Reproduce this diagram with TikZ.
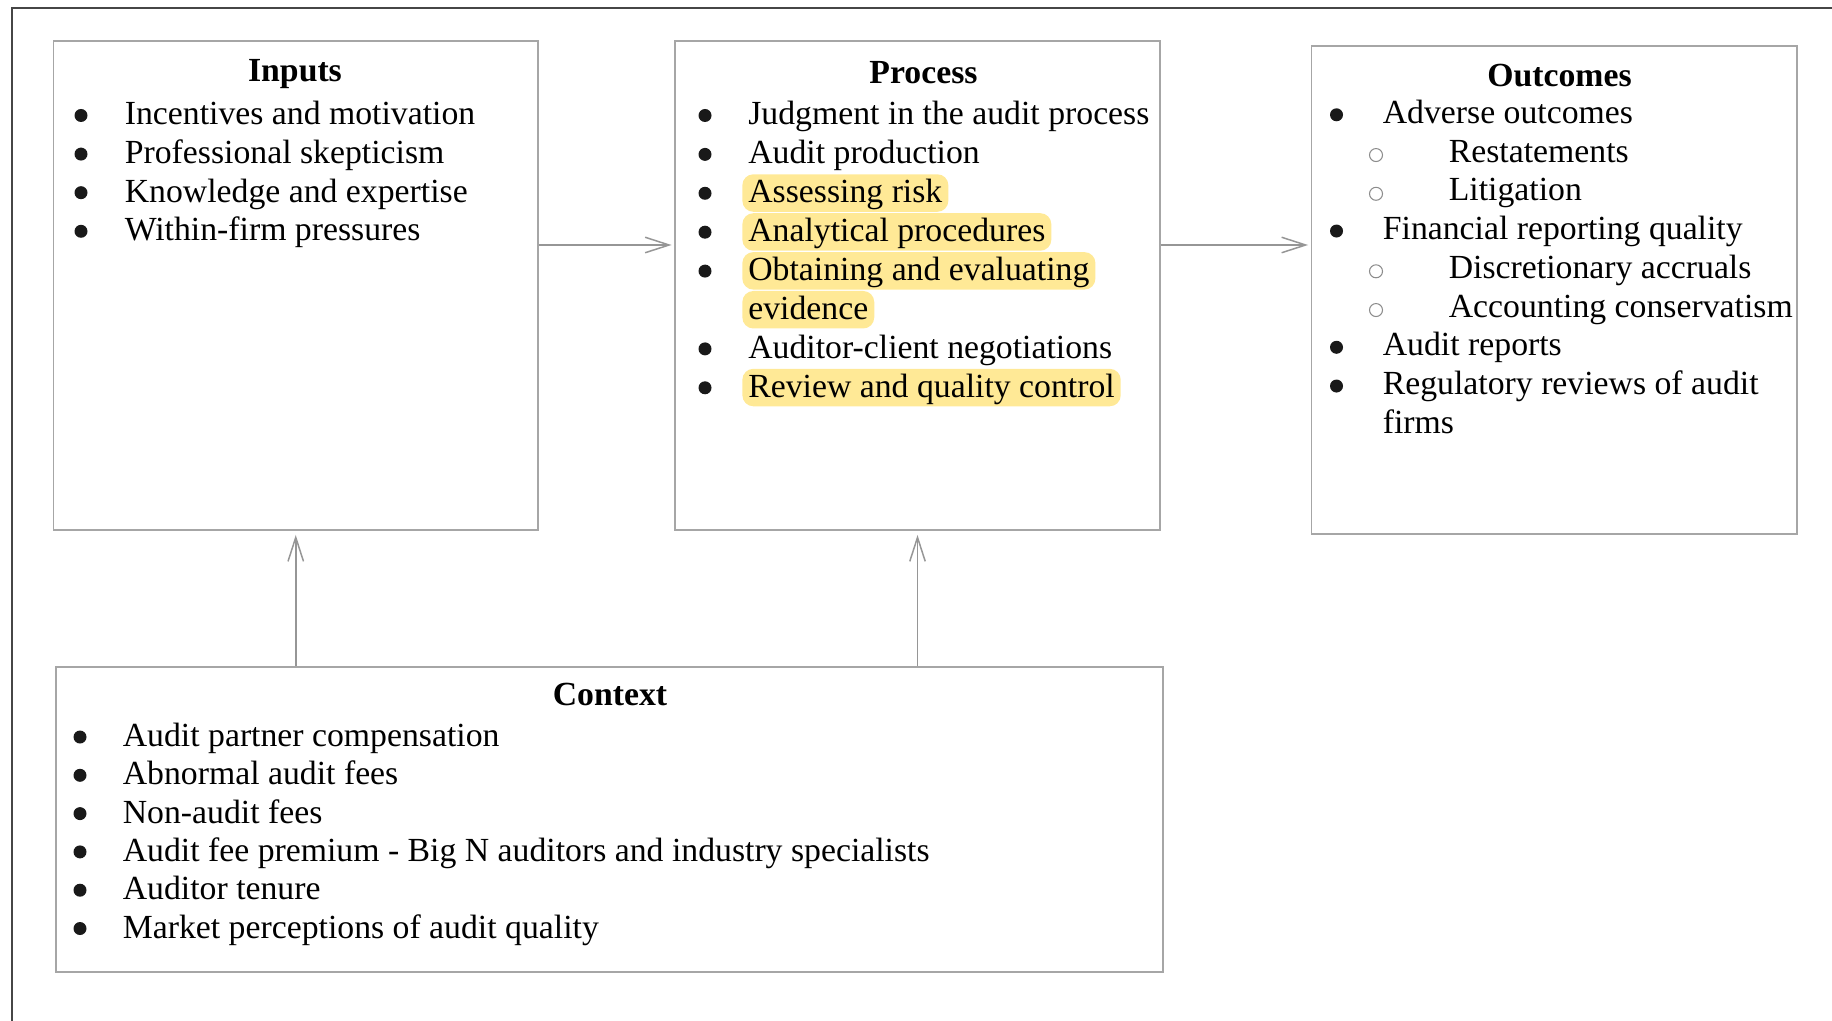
\documentclass[tikz,border=0pt]{standalone}
\usepackage{fontspec}
\setmainfont{Liberation Serif}
\usetikzlibrary{arrows.meta}
\definecolor{hlyellow}{RGB}{255,233,150}
\definecolor{boxgray}{RGB}{166,166,166}
\definecolor{arrgray}{RGB}{150,150,150}
\definecolor{framegray}{RGB}{70,70,70}
\tikzset{
  panel/.style={draw=boxgray, line width=1.1pt, inner sep=0pt},
  heading/.style={anchor=base, inner sep=0pt, font=\fontsize{19.2}{23}\selectfont\bfseries},
  listrow/.style={anchor=base west, inner xsep=0.12cm, inner ysep=0pt,
    text height=0.57cm, text depth=0.18cm, font=\fontsize{19.2}{23}\selectfont},
  plainrow/.style={},
  hlrow/.style={fill=hlyellow, rounded corners=0.22cm},
  dot/.style={circle, fill=black!90, inner sep=0pt, minimum size=0.26cm},
  subdot/.style={circle, draw=black!45, line width=0.6pt, inner sep=0pt, minimum size=0.26cm},
  flowarrow/.style={draw=arrgray, line width=0.85pt,
    -{Straight Barb[length=0.48cm, width=0.31cm, line width=0.85pt]}}
}
\begin{document}
\begin{tikzpicture}
  \useasboundingbox (0,0) rectangle (36.64,-20.42);
  % page frame
  \draw[framegray, line width=1.3pt] (0.24,-20.42) -- (0.24,-0.16) -- (36.64,-0.16);

  % the four panels
  \node[panel, minimum width=9.69cm, minimum height=9.78cm] (inputs) at (5.915,-5.71) {};
  \node[panel, minimum width=9.70cm, minimum height=9.78cm] (process) at (18.35,-5.71) {};
  \node[panel, minimum width=9.71cm, minimum height=9.76cm] (outcomes) at (31.085,-5.8) {};
  \node[panel, minimum width=22.14cm, minimum height=6.1cm] (context) at (12.19,-16.39) {};

  \node[heading] (inputs-t) at (5.9,-1.634) {Inputs};
  \node[heading] (process-t) at (18.47,-1.666) {Process};
  \node[heading] (outcomes-t) at (31.19,-1.734) {Outcomes};
  \node[heading] (context-t) at (12.2,-14.1) {Context};

  % inputs
  \foreach \t [count=\i from 0] in {Incentives and motivation, Professional skepticism,
      Knowledge and expertise, Within-firm pressures} {
    \node[dot] (in-b\i) at (1.62,-2.31-0.772*\i) {};
    \node[listrow] (in-\i) at (2.37,-2.5-0.772*\i) {\t};
  }

  % process
  \foreach \t/\s [count=\i from 0] in {Judgment in the audit process/plainrow,
      Audit production/plainrow, Assessing risk/hlrow, Analytical procedures/hlrow,
      Obtaining and evaluating/hlrow, evidence/hlrow,
      Auditor-client negotiations/plainrow, Review and quality control/hlrow}
    \node[listrow, \s] (pr-\i) at (14.84,-2.5-0.778*\i) {\t};
  \foreach \i in {0,1,2,3,4,6,7}
    \node[dot] (pr-b\i) at (14.1,-2.31-0.778*\i) {};

  % outcomes
  \foreach \t/\x [count=\i from 0] in {Adverse outcomes/27.53, Restatements/28.85,
      Litigation/28.85, Financial reporting quality/27.53, Discretionary accruals/28.85,
      Accounting conservatism/28.85, Audit reports/27.53,
      Regulatory reviews of audit/27.53, firms/27.53}
    \node[listrow] (out-\i) at (\x,-2.466-0.775*\i) {\t};
  \foreach \i in {0,3,6,7}
    \node[dot] (out-b\i) at (26.73,-2.296-0.775*\i) {};
  \foreach \i in {1,2,4,5}
    \node[subdot] (out-c\i) at (27.52,-2.326-0.775*\i) {};

  % context
  \foreach \t [count=\i from 0] in {Audit partner compensation, Abnormal audit fees,
      Non-audit fees, Audit fee premium - Big N auditors and industry specialists,
      Auditor tenure, Market perceptions of audit quality} {
    \node[dot] (cx-b\i) at (1.6,-14.74-0.766*\i) {};
    \node[listrow] (cx-\i) at (2.33,-14.93-0.766*\i) {\t};
  }

  % connectors
  \coordinate (flowrow) at (0,-4.9);
  \draw[flowarrow, shorten >=0.05cm] (inputs.east |- flowrow) -- (process.west |- flowrow);
  \draw[flowarrow, shorten >=0.05cm] (process.east |- flowrow) -- (outcomes.west |- flowrow);
  \draw[flowarrow, shorten >=0.08cm] (context.north -| inputs.south) -- (inputs.south);
  \draw[flowarrow, shorten >=0.08cm] (context.north -| process.south) -- (process.south);
\end{tikzpicture}
\end{document}
